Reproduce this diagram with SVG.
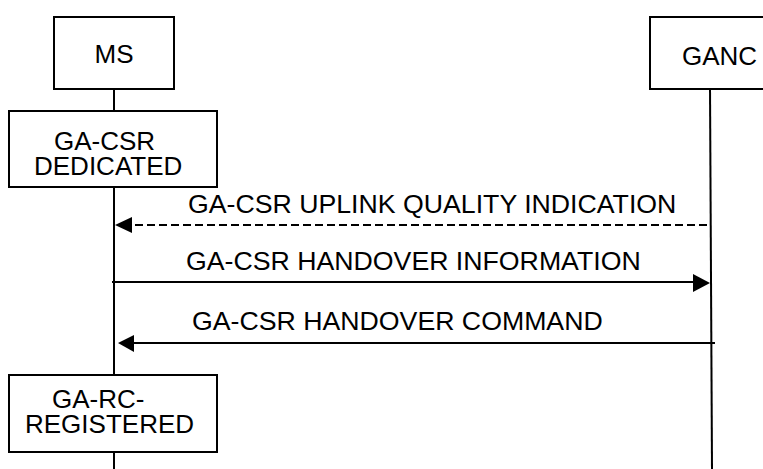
<svg xmlns="http://www.w3.org/2000/svg" width="763" height="469" viewBox="0 0 763 469">
<style>
.box{fill:#fff;stroke:#000;stroke-width:2}
.life{stroke:#000;stroke-width:2;fill:none}
.msg{stroke:#000;stroke-width:2;fill:none}
.dash{stroke-dasharray:8 4}
.head{fill:#000;stroke:none}
text{font-family:"Liberation Sans",Arial,sans-serif;font-size:26px;fill:#000}
.lbl{font-size:26.7px}
</style>
<rect width="763" height="469" fill="#fff"/>
<g id="lifelines">
<line class="life" x1="114" y1="89" x2="114" y2="111"/>
<line class="life" x1="114" y1="187" x2="114" y2="375"/>
<line class="life" x1="114" y1="452" x2="114" y2="469"/>
<line class="life" x1="710" y1="86" x2="712" y2="469"/>
</g>
<g id="MS">
<rect class="box" x="54" y="17" width="120" height="72"/>
<text x="114" y="63" text-anchor="middle">MS</text>
</g>
<g id="GANC">
<rect class="box" x="650" y="17" width="130" height="72"/>
<text x="682" y="65">GANC</text>
</g>
<g id="dedicated">
<rect class="box" x="9" y="111" width="208" height="76"/>
<text><tspan x="54" y="150">GA-CSR</tspan><tspan x="34" y="175">DEDICATED</tspan></text>
</g>
<g id="registered">
<rect class="box" x="9" y="375" width="208" height="77"/>
<text><tspan x="52" y="408">GA-RC-</tspan><tspan x="25" y="433">REGISTERED</tspan></text>
</g>
<g id="connectors">
<line class="msg dash" x1="707" y1="225" x2="132" y2="225"/>
<polygon class="head" points="115,225 132,217 132,233"/>
<text class="lbl" x="188" y="213">GA-CSR UPLINK QUALITY INDICATION</text>
<line class="msg" x1="112" y1="282" x2="694" y2="282"/>
<polygon class="head" points="710,283 693,274 693,292"/>
<text class="lbl" x="186" y="270">GA-CSR HANDOVER INFORMATION</text>
<line class="msg" x1="715" y1="343" x2="133" y2="343"/>
<polygon class="head" points="118,343 134,335 134,352"/>
<text class="lbl" x="192" y="330">GA-CSR HANDOVER COMMAND</text>
</g>
</svg>
